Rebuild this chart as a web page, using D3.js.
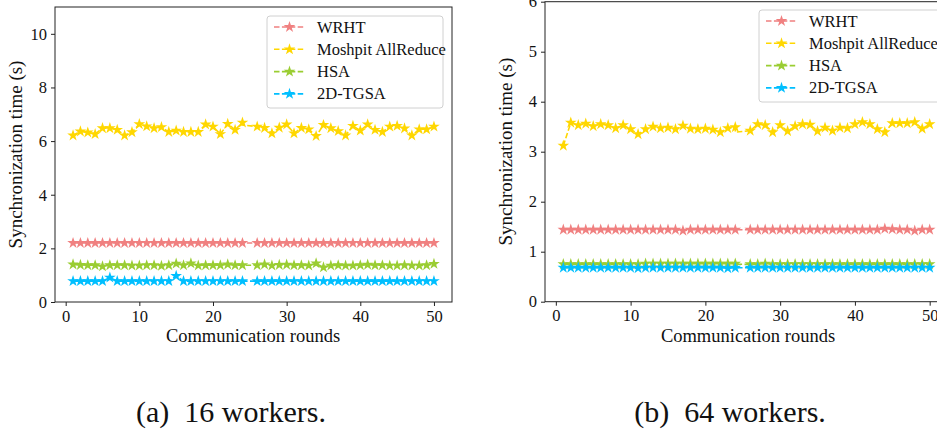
<!DOCTYPE html>
<html>
<head>
<meta charset="utf-8">
<script src="https://cdn.jsdelivr.net/npm/d3@7"></script>
<style>
  body { margin: 0; background: #fff; }
  svg text { font-family: "Liberation Serif", "Times New Roman", serif; fill: #111; }
  .caption { white-space: pre; }
</style>
</head>
<body>
<div class="chart-container"></div>
<script>
//! CONSTS
const WIDTH = 937;
const HEIGHT = 438;

// round positions; the 25th sample is drawn on top of round 24 in the source figure
const ROUNDS = [1, 2, 3, 4, 5, 6, 7, 8, 9, 10, 11, 12, 13, 14, 15, 16, 17, 18, 19, 20, 21, 22, 23, 24,
  24, 26, 27, 28, 29, 30, 31, 32, 33, 34, 35, 36, 37, 38, 39, 40, 41, 42, 43, 44, 45, 46, 47, 48, 49, 50];
// rounds that carry no marker
const NO_MARKER = [24];

const NAMES = ['WRHT', 'Moshpit AllReduce', 'HSA', '2D-TGSA'];
const COLORS = ['#f08080', '#ffd700', '#9acd32', '#00bfff'];
const X_TICKS = [0, 10, 20, 30, 40, 50];

//! DATA (a) 16 workers
const WRHT_16 = [2.2, 2.2, 2.2, 2.2, 2.2, 2.2, 2.2, 2.2, 2.2, 2.2, 2.2, 2.2, 2.2, 2.2, 2.2, 2.2, 2.2, 2.2, 2.2, 2.2, 2.2, 2.2, 2.2, 2.2,
  2.2, 2.2, 2.2, 2.2, 2.2, 2.2, 2.2, 2.2, 2.2, 2.2, 2.2, 2.2, 2.2, 2.2, 2.2, 2.2, 2.2, 2.2, 2.2, 2.2, 2.2, 2.2, 2.2, 2.2, 2.2, 2.2];
const MOSHPIT_16 = [6.21, 6.36, 6.32, 6.26, 6.48, 6.48, 6.42, 6.21, 6.33, 6.63, 6.55, 6.48, 6.52, 6.34, 6.39, 6.34, 6.34, 6.34, 6.62, 6.54, 6.26, 6.64, 6.42, 6.69,
  6.60, 6.54, 6.49, 6.29, 6.50, 6.62, 6.29, 6.49, 6.44, 6.19, 6.60, 6.48, 6.37, 6.21, 6.57, 6.39, 6.62, 6.42, 6.34, 6.54, 6.57, 6.47, 6.21, 6.44, 6.44, 6.54];
const HSA_16 = [1.40, 1.38, 1.37, 1.37, 1.33, 1.37, 1.37, 1.37, 1.36, 1.36, 1.37, 1.37, 1.35, 1.37, 1.43, 1.37, 1.44, 1.36, 1.37, 1.37, 1.37, 1.40, 1.37, 1.37,
  1.37, 1.37, 1.40, 1.36, 1.38, 1.39, 1.37, 1.37, 1.36, 1.44, 1.29, 1.36, 1.37, 1.36, 1.36, 1.37, 1.39, 1.37, 1.37, 1.36, 1.36, 1.37, 1.36, 1.36, 1.37, 1.42];
const TGSA_16 = [0.78, 0.78, 0.78, 0.78, 0.78, 0.91, 0.78, 0.78, 0.78, 0.78, 0.78, 0.78, 0.78, 0.78, 0.97, 0.78, 0.78, 0.78, 0.78, 0.78, 0.78, 0.78, 0.78, 0.78,
  0.78, 0.78, 0.78, 0.78, 0.78, 0.78, 0.78, 0.78, 0.78, 0.78, 0.78, 0.78, 0.78, 0.78, 0.78, 0.78, 0.78, 0.78, 0.78, 0.78, 0.78, 0.78, 0.78, 0.78, 0.78, 0.78];

//! DATA (b) 64 workers
const WRHT_64 = [1.44, 1.44, 1.44, 1.44, 1.44, 1.44, 1.44, 1.44, 1.44, 1.44, 1.44, 1.44, 1.44, 1.44, 1.44, 1.44, 1.42, 1.44, 1.44, 1.44, 1.44, 1.44, 1.44, 1.44,
  1.44, 1.44, 1.44, 1.44, 1.44, 1.44, 1.44, 1.44, 1.44, 1.44, 1.44, 1.44, 1.44, 1.44, 1.44, 1.44, 1.44, 1.44, 1.44, 1.46, 1.45, 1.44, 1.44, 1.42, 1.44, 1.44];
const MOSHPIT_64 = [3.12, 3.58, 3.53, 3.56, 3.51, 3.55, 3.53, 3.47, 3.53, 3.45, 3.35, 3.45, 3.50, 3.47, 3.48, 3.45, 3.52, 3.46, 3.45, 3.46, 3.44, 3.39, 3.47, 3.49,
  3.39, 3.42, 3.55, 3.53, 3.39, 3.53, 3.41, 3.51, 3.55, 3.54, 3.41, 3.48, 3.42, 3.48, 3.47, 3.55, 3.59, 3.55, 3.45, 3.39, 3.57, 3.57, 3.57, 3.59, 3.46, 3.55];
const HSA_64 = [0.75, 0.75, 0.75, 0.75, 0.75, 0.75, 0.75, 0.75, 0.75, 0.75, 0.75, 0.76, 0.76, 0.76, 0.76, 0.76, 0.76, 0.76, 0.76, 0.76, 0.76, 0.76, 0.76, 0.76,
  0.75, 0.75, 0.75, 0.76, 0.75, 0.75, 0.75, 0.75, 0.75, 0.75, 0.75, 0.75, 0.75, 0.75, 0.75, 0.75, 0.75, 0.75, 0.75, 0.75, 0.75, 0.75, 0.75, 0.75, 0.75, 0.75];
const TGSA_64 = [0.68, 0.68, 0.68, 0.68, 0.68, 0.68, 0.68, 0.68, 0.68, 0.68, 0.67, 0.68, 0.68, 0.68, 0.68, 0.68, 0.68, 0.68, 0.68, 0.68, 0.68, 0.68, 0.67, 0.68,
  0.68, 0.68, 0.68, 0.68, 0.68, 0.68, 0.68, 0.68, 0.68, 0.68, 0.68, 0.68, 0.68, 0.68, 0.68, 0.68, 0.68, 0.68, 0.68, 0.68, 0.68, 0.68, 0.68, 0.68, 0.68, 0.68];

//! SVG
const svg = d3.select('.chart-container')
  .append('svg')
  .attr('width', WIDTH)
  .attr('height', HEIGHT);

const star = d3.symbol().type(d3.symbolStar).size(42);

function drawPanel(opt) {
  const { left, right, top, bottom, yMax, yTicks, series, legend, caption, xLabelX } = opt;

  const x = d3.scaleLinear().domain([-1.45, 52.45]).range([left, right]);
  const y = d3.scaleLinear().domain([0, yMax]).range([bottom, top]);

  const g = svg.append('g');

  // frame
  g.append('rect')
    .attr('x', left).attr('y', top)
    .attr('width', right - left).attr('height', bottom - top)
    .attr('fill', 'none').attr('stroke', '#222').attr('stroke-width', 1);

  // axes
  const xAxis = g.append('g')
    .attr('transform', `translate(0,${bottom})`)
    .call(d3.axisBottom(x).tickValues(X_TICKS).tickFormat(d3.format('d')).tickSizeOuter(0).tickSize(4).tickPadding(4));
  const yAxis = g.append('g')
    .attr('transform', `translate(${left},0)`)
    .call(d3.axisLeft(y).tickValues(yTicks).tickFormat(d3.format('d')).tickSizeOuter(0).tickSize(4).tickPadding(4));
  [xAxis, yAxis].forEach(a => {
    a.select('.domain').remove();
    a.selectAll('line').attr('stroke', '#222');
    a.selectAll('text').attr('font-size', 16.5).attr('fill', '#111')
      .style('font-family', '"Liberation Serif", serif');
  });

  // axis titles
  g.append('text')
    .attr('x', xLabelX)
    .attr('y', bottom + 40)
    .attr('text-anchor', 'middle')
    .attr('font-size', 18.5)
    .text('Communication rounds');
  g.append('text')
    .attr('transform', `translate(${left - 33},${(top + bottom) / 2}) rotate(-90)`)
    .attr('text-anchor', 'middle')
    .attr('font-size', 19)
    .text('Synchronization time (s)');

  // series
  const line = d3.line().x((d, i) => x(ROUNDS[i])).y(d => y(d));
  series.forEach((vals, k) => {
    const s = g.append('g');
    s.append('path')
      .datum(vals)
      .attr('d', line)
      .attr('fill', 'none')
      .attr('stroke', COLORS[k])
      .attr('stroke-width', 1.6)
      .attr('stroke-dasharray', '5.5,2.4');
    s.selectAll('path.mk')
      .data(vals.map((v, i) => ({ v, i })).filter(d => !NO_MARKER.includes(d.i)))
      .enter()
      .append('path')
      .attr('class', 'mk')
      .attr('d', star)
      .attr('fill', COLORS[k])
      .attr('transform', d => `translate(${x(ROUNDS[d.i])},${y(d.v)})`);
  });

  // legend
  const lg = g.append('g').attr('transform', `translate(${legend.x},${legend.y})`);
  lg.append('rect')
    .attr('width', legend.w).attr('height', 92)
    .attr('rx', 3)
    .attr('fill', '#fff').attr('fill-opacity', 0.85)
    .attr('stroke', '#d0d0d0');
  NAMES.forEach((name, k) => {
    const ly = 11 + k * 22.3;
    lg.append('line')
      .attr('x1', 7).attr('x2', 38).attr('y1', ly).attr('y2', ly)
      .attr('stroke', COLORS[k]).attr('stroke-width', 1.6)
      .attr('stroke-dasharray', '5.5,2.4');
    lg.append('path')
      .attr('d', star)
      .attr('fill', COLORS[k])
      .attr('transform', `translate(22.5,${ly})`);
    lg.append('text')
      .attr('x', 50).attr('y', ly + 5.5)
      .attr('font-size', 16.5)
      .text(name);
  });

  // caption
  svg.append('text')
    .attr('class', 'caption')
    .attr('x', caption.x).attr('y', 422)
    .attr('text-anchor', 'middle')
    .attr('font-size', 30)
    .text(caption.text);
}

drawPanel({
  left: 55, right: 452, top: 7, bottom: 302,
  yMax: 11, yTicks: [0, 2, 4, 6, 8, 10],
  series: [WRHT_16, MOSHPIT_16, HSA_16, TGSA_16],
  legend: { x: 267, y: 16, w: 176 },
  caption: { x: 231, text: '(a)  16 workers.' },
  xLabelX: 253
});

drawPanel({
  left: 545, right: 948, top: 1.7, bottom: 301.7,
  yMax: 6, yTicks: [0, 1, 2, 3, 4, 5, 6],
  series: [WRHT_64, MOSHPIT_64, HSA_64, TGSA_64],
  legend: { x: 759, y: 10, w: 200 },
  caption: { x: 730, text: '(b)  64 workers.' },
  xLabelX: 748
});
</script>
</body>
</html>
